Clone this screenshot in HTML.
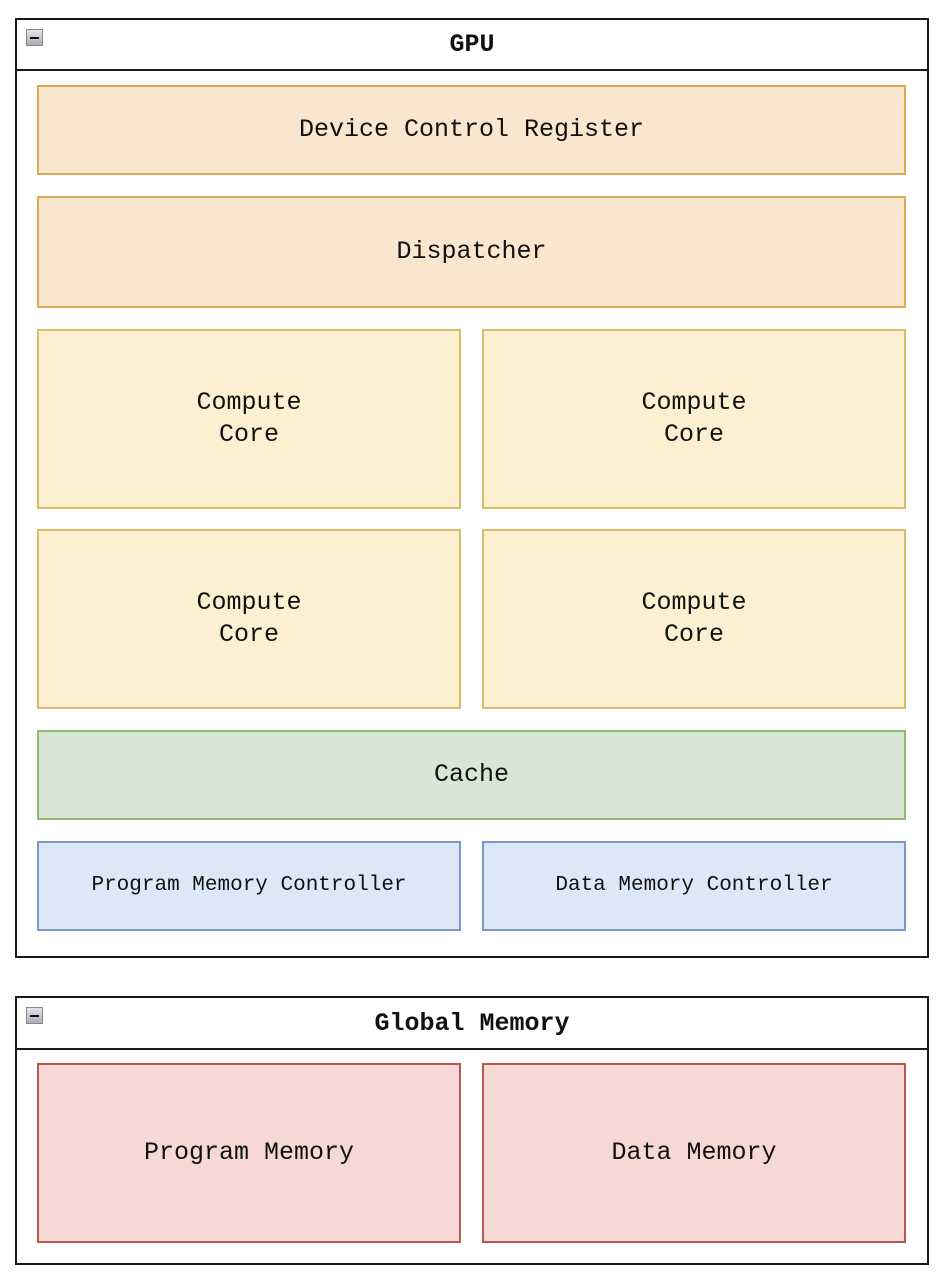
<!DOCTYPE html>
<html><head><meta charset="utf-8"><style>
body{margin:0;width:946px;height:1280px;background:#fff;position:relative;font-family:"Liberation Mono",monospace;color:#111}
.b{position:absolute;box-sizing:border-box;display:flex;align-items:center;justify-content:center;text-align:center;font-size:25px;line-height:32px}
.grp{position:absolute;box-sizing:border-box;border:2px solid #1a1a1a}
.hdr{position:absolute;left:0;right:0;top:0;box-sizing:border-box;border-bottom:2px solid #1a1a1a;display:flex;align-items:center;justify-content:center;font-weight:bold;font-size:25px}
.ic{position:absolute;left:9px;top:9px;width:17px;height:17px;box-sizing:border-box;border:1px solid #888;background:linear-gradient(#e4e6ea,#a9adb4)}
.ic:after{content:"";position:absolute;left:3px;right:3px;top:7px;height:2px;background:#111}
.o{background:#fae5cf;border:2px solid #dcaa52}
.y{background:#fcf0d0;border:2px solid #d9bd6b}
.g{background:#d8e7d5;border:2px solid #8fb873}
.bl{background:#dce8f8;border:2px solid #7c98c6;font-size:21px}
.r{background:#f6d8d5;border:2px solid #b85a52}
</style></head><body>
<div class="grp" style="left:15px;top:18px;width:914px;height:940px"><div class="hdr" style="height:51px">GPU</div><div class="ic"></div></div>
<div class="b o" style="left:37px;top:85px;width:869px;height:90px">Device Control Register</div>
<div class="b o" style="left:37px;top:196px;width:869px;height:112px">Dispatcher</div>
<div class="b y" style="left:37px;top:329px;width:424px;height:180px">Compute<br>Core</div>
<div class="b y" style="left:482px;top:329px;width:424px;height:180px">Compute<br>Core</div>
<div class="b y" style="left:37px;top:529px;width:424px;height:180px">Compute<br>Core</div>
<div class="b y" style="left:482px;top:529px;width:424px;height:180px">Compute<br>Core</div>
<div class="b g" style="left:37px;top:730px;width:869px;height:90px">Cache</div>
<div class="b bl" style="left:37px;top:841px;width:424px;height:90px">Program Memory Controller</div>
<div class="b bl" style="left:482px;top:841px;width:424px;height:90px">Data Memory Controller</div>
<div class="grp" style="left:15px;top:996px;width:914px;height:269px"><div class="hdr" style="height:52px">Global Memory</div><div class="ic"></div></div>
<div class="b r" style="left:37px;top:1063px;width:424px;height:180px">Program Memory</div>
<div class="b r" style="left:482px;top:1063px;width:424px;height:180px">Data Memory</div>
</body></html>
